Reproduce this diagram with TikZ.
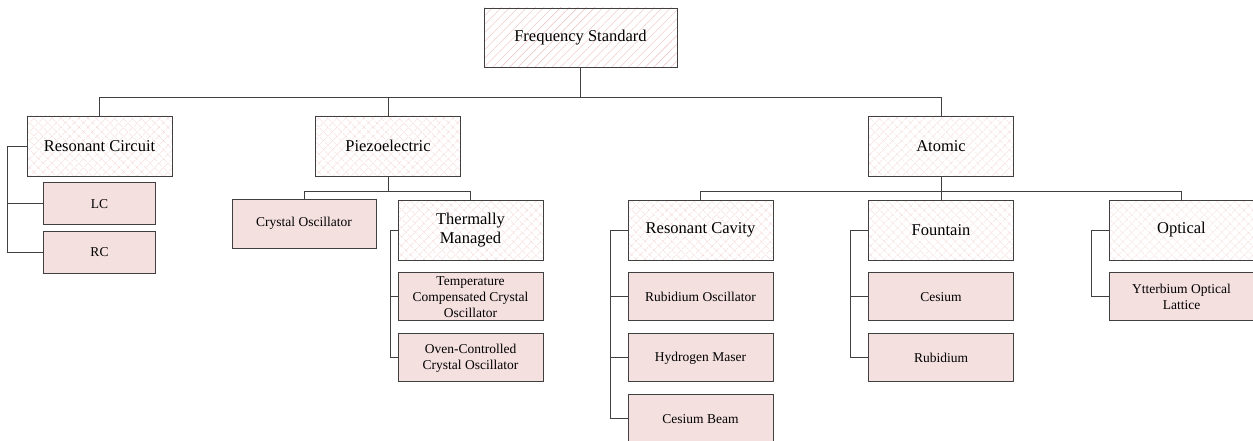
\documentclass[tikz,border=0pt]{standalone}
\usepackage{fontspec}
\setmainfont{Liberation Serif}
\usepackage{tikz}
\usetikzlibrary{shapes,arrows,fit,positioning,patterns.meta}
\definecolor{hatchpink}{rgb}{.93,.74,.74}
\definecolor{leafpink}{rgb}{.96,.88,.88}
\definecolor{linegray}{rgb}{.25,.25,.25}
\def\Root{Frequency Standard}

\begin{document}
\begin{tikzpicture}[x=1pt,y=-1pt,% List of styles applied to all, to override specify on a case-by-case
			every node/.style={
				align=center,  		% use this so that the "\\" for line break works
				inner sep=0.5pt
			},
			rootbox/.style={rectangle,draw=linegray,line width=0.9pt,
				pattern={Lines[angle=45,distance=6pt,line width=0.4pt]},pattern color=hatchpink,
				minimum width=193pt,minimum height=59pt,font=\fontsize{16.5}{19}\selectfont},
			groupbox/.style={rectangle,draw=linegray,line width=0.9pt,
				preaction={pattern={Lines[angle=45,distance=6.5pt,line width=0.4pt]},pattern color=hatchpink},
				pattern={Lines[angle=-45,distance=6.5pt,line width=0.4pt]},pattern color=hatchpink,
				minimum width=145pt,minimum height=60pt,font=\fontsize{16.5}{18.5}\selectfont},
			leafbox/.style={rectangle,draw=linegray,line width=0.9pt,fill=leafpink,
				minimum width=145pt,minimum height=48pt,font=\fontsize{13.5}{16}\selectfont},
			smallleaf/.style={leafbox,minimum width=112pt,minimum height=42pt},
			link/.style={draw=linegray,line width=0.9pt}
		]
		\useasboundingbox (0,0) rectangle (1253,441);
		% top and second level
		\node[rootbox](R1) at (580.5,37.5){\Root};
		\node[groupbox](R2) at (99.5,146){Resonant Circuit};
		\node[groupbox](R3) at (388,146){Piezoelectric};
		\node[groupbox](R4) at (941,146){Atomic};
		% resonant circuit
		\node[smallleaf](R5)[below=6pt of R2]{LC};
		\node[smallleaf](R6)[below=6pt of R5]{RC};
		% piezoelectric
		\node[leafbox,minimum width=144pt,minimum height=49pt](R7) at (304,223.5){Crystal Oscillator};
		\node[groupbox](R8) at (470.5,230){Thermally\\Managed};
		\node[leafbox](R9)[below=12pt of R8]{Temperature\\Compensated Crystal\\Oscillator};
		\node[leafbox](R10)[below=12pt of R9]{Oven-Controlled\\Crystal Oscillator};
		% atomic
		\node[groupbox](R11) at (700.5,230){Resonant Cavity};
		\node[leafbox](R12)[below=12pt of R11]{Rubidium Oscillator};
		\node[leafbox](R13)[below=12pt of R12]{Hydrogen Maser};
		\node[leafbox](R14)[below=12pt of R13]{Cesium Beam};
		\node[groupbox](R15) at (941,230){Fountain};
		\node[leafbox](R16)[below=12pt of R15]{Cesium};
		\node[leafbox](R17)[below=12pt of R16]{Rubidium};
		\node[groupbox](R18) at (1181.5,230){Optical};
		\node[leafbox](R19)[below=12pt of R18]{Ytterbium Optical\\Lattice};
		% connectors
		\foreach \c in {R2,R3,R4}
			\draw[link] (R1.south) -- ++(0,30) -| (\c.north);
		\foreach \c in {R7,R8}
			\draw[link] (R3.south) -- ++(0,15) -| (\c.north);
		\foreach \c in {R11,R15,R18}
			\draw[link] (R4.south) -- ++(0,15) -| (\c.north);
		\foreach \c in {R5,R6}
			\draw[link] (R2.west) -- ++(-19,0) |- (\c.west);
		\foreach \c in {R9,R10}
			\draw[link] (R8.west) -- ++(-7,0) |- (\c.west);
		\foreach \c in {R12,R13,R14}
			\draw[link] (R11.west) -- ++(-17,0) |- (\c.west);
		\foreach \c in {R16,R17}
			\draw[link] (R15.west) -- ++(-18,0) |- (\c.west);
		\draw[link] (R18.west) -- ++(-17,0) |- (R19.west);
	\end{tikzpicture}
\end{document}
